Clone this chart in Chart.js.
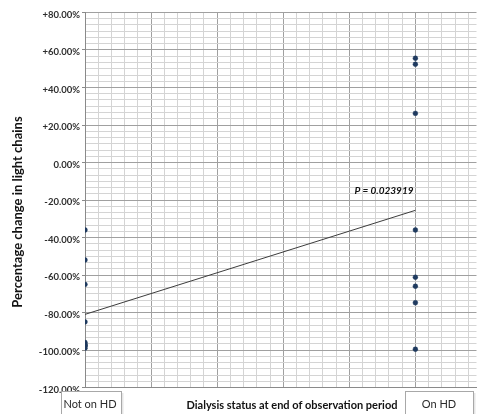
<!DOCTYPE html>
<html>
<head>
<meta charset="utf-8">
<script src="https://cdn.jsdelivr.net/npm/chart.js@4.4.1/dist/chart.umd.min.js"></script>
<style>
  html, body { margin: 0; padding: 0; background: #fff; overflow: hidden; }
  canvas { display: block; }
</style>
</head>
<body>
<canvas id="c" width="481" height="414"></canvas>
<script>
// Group labels on the x axis (0 = not on HD, 1 = on HD)
const categories = ['Not on HD', 'On HD'];
// Percentage change in light chains per patient
const notOnHD = [-36, -52, -65, -85, -96, -97, -97.5, -98, -99];
const onHD = [55.6, 52.4, 26.2, -36, -61.2, -66, -74.8, -99.6];
// Fitted trend line at x = 0 and x = 1
const trendEnds = [-81, -25.5];
const pValueText = 'P = 0.023919';
const yTickLabels = ['-120.00%', '-100.00%', '-80.00%', '-60.00%', '-40.00%', '-20.00%',
                     '0.00%', '+20.00%', '+40.00%', '+60.00%', '+80.00%'];
const xTitle = 'Dialysis status at end of observation period';
const yTitle = 'Percentage change in light chains';

const points = [
  ...notOnHD.map(v => ({ x: 0, y: v })),
  ...onHD.map(v => ({ x: 1, y: v }))
];

const MAJOR = '#a0a0a0';
const MINOR = '#d4d4d4';

const extras = {
  id: 'extras',
  afterDraw(chart) {
    const ctx = chart.ctx;
    ctx.save();
    // y axis title
    ctx.fillStyle = '#111';
    ctx.font = 'bold 13px Lato, "Open Sans", sans-serif';
    ctx.textAlign = 'center';
    ctx.textBaseline = 'middle';
    ctx.translate(18, 212);
    ctx.rotate(-Math.PI / 2);
    ctx.fillText(yTitle, 0, 0, 236);
    ctx.restore();

    ctx.save();
    ctx.fillStyle = '#111';
    ctx.font = 'bold 11px Lato, "Open Sans", sans-serif';
    ctx.textAlign = 'center';
    ctx.textBaseline = 'middle';
    ctx.fillText(xTitle, 292, 405, 216);

    // p-value annotation
    ctx.font = 'italic bold 10px Lato, "Open Sans", sans-serif';
    ctx.fillText(pValueText, 384, 191, 64);

    // category label boxes
    const boxes = [
      { text: categories[0], x: 61.5, w: 60, cx: 90 },
      { text: categories[1], x: 405.5, w: 68, cx: 439 }
    ];
    boxes.forEach(b => {
      ctx.fillStyle = '#e6e6e6';
      ctx.fillRect(b.x + 2, 393, b.w, 30);
      ctx.fillStyle = '#ffffff';
      ctx.fillRect(b.x, 391.5, b.w, 30);
      ctx.strokeStyle = '#a8a8a8';
      ctx.lineWidth = 1;
      ctx.strokeRect(b.x, 391.5, b.w, 30);
      ctx.fillStyle = '#2a2a2a';
      ctx.font = '11px Lato, "Open Sans", sans-serif';
      ctx.fillText(b.text, b.cx, 404);
    });
    ctx.restore();
  }
};

new Chart(document.getElementById('c'), {
  type: 'scatter',
  data: {
    datasets: [
      {
        data: points,
        pointStyle: 'circle',
        pointRadius: 2.4,
        pointBackgroundColor: '#1f3a5f',
        pointBorderColor: '#1f3a5f',
        pointBorderWidth: 0.5,
        order: 1
      },
      {
        data: [{ x: 0, y: trendEnds[0] }, { x: 1, y: trendEnds[1] }],
        showLine: true,
        borderColor: '#3c3c3c',
        borderWidth: 1,
        pointRadius: 0,
        order: 2
      }
    ]
  },
  options: {
    responsive: false,
    animation: false,
    events: [],
    layout: { padding: { top: 12.5, right: 0, bottom: 0, left: 0 } },
    plugins: { legend: { display: false }, tooltip: { enabled: false } },
    scales: {
      x: {
        type: 'linear',
        min: 0,
        max: 1.185,
        afterBuildTicks(scale) {
          const t = [];
          for (let i = 0; i <= 29; i++) t.push({ value: i * 0.04, major: i % 5 === 0 });
          scale.ticks = t;
        },
        afterFit(scale) { scale.height = 26.5; },
        ticks: { display: false },
        grid: {
          drawTicks: false,
          color: c => (c.tick && c.tick.major ? MAJOR : MINOR),
          lineWidth: 1
        },
        border: { display: true, color: '#8a8a8a', width: 1 }
      },
      y: {
        type: 'linear',
        min: -120,
        max: 80,
        afterBuildTicks(scale) {
          const t = [];
          for (let i = 0; i <= 60; i++) t.push({ value: -120 + i * 200 / 60, major: i % 6 === 0 });
          scale.ticks = t;
        },
        afterFit(scale) { scale.width = 85; },
        ticks: {
          autoSkip: false,
          padding: 2,
          labelOffset: 2,
          color: '#2e2e2e',
          font: { family: 'Lato, "Open Sans", sans-serif', size: 9.5, weight: 'bold' },
          callback: (v, i) => (i % 6 === 0 ? yTickLabels[i / 6] : '')
        },
        grid: {
          tickLength: 3,
          color: c => (c.tick && c.tick.major ? MAJOR : MINOR),
          tickColor: c => (c.tick && c.tick.major ? '#8a8a8a' : 'rgba(0,0,0,0)'),
          lineWidth: 1
        },
        border: { display: true, color: '#8a8a8a', width: 1 }
      }
    }
  },
  plugins: [extras]
});
</script>
</body>
</html>
